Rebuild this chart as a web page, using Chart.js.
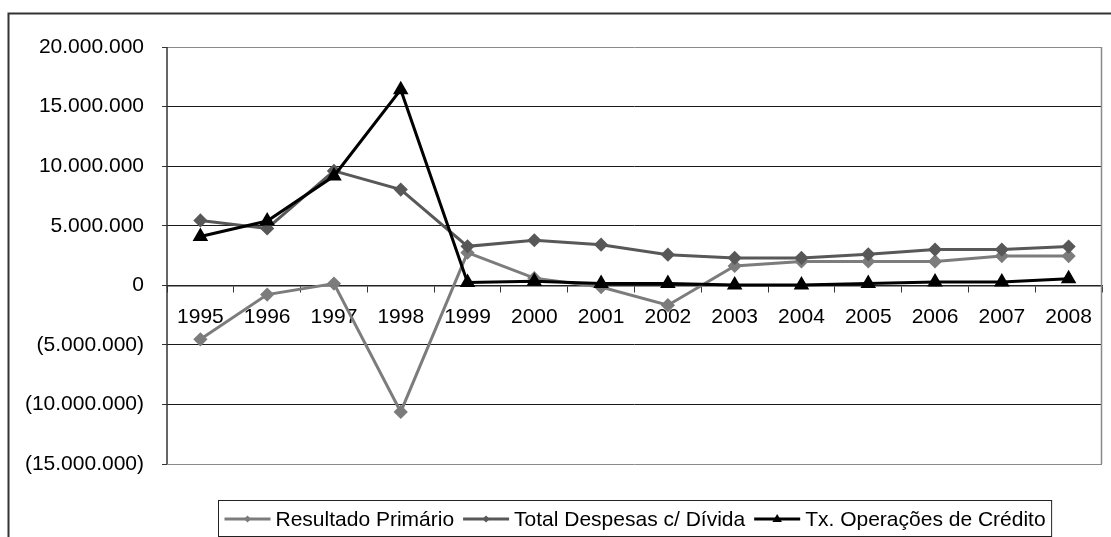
<!DOCTYPE html>
<html>
<head>
<meta charset="utf-8">
<script src="https://cdn.jsdelivr.net/npm/chart.js@4/dist/chart.umd.min.js"></script>
<style>
  html, body { margin: 0; padding: 0; background: #fff; }
  #wrap { width: 1111px; height: 537px; position: relative; }
</style>
</head>
<body>
<div id="wrap"><canvas id="c" width="1111" height="537"></canvas></div>
<script>
// Anos
const years = ['1995','1996','1997','1998','1999','2000','2001','2002','2003','2004','2005','2006','2007','2008'];

// Séries (R$)
const resultadoPrimario = [-4530000, -780000, 140000, -10630000, 2740000, 600000, -150000, -1670000, 1620000, 2000000, 2000000, 2000000, 2450000, 2450000];
const totalDespesasDivida = [5440000, 4770000, 9600000, 8030000, 3270000, 3780000, 3410000, 2570000, 2300000, 2300000, 2600000, 3000000, 3000000, 3250000];
const txOperacoesCredito = [4100000, 5390000, 9170000, 16420000, 230000, 340000, 140000, 150000, 20000, 20000, 140000, 280000, 280000, 550000];

// Eixo Y
const yMin = -15000000;
const yMax = 20000000;
const yStep = 5000000;

const seriesLabels = ['Resultado Primário', 'Total Despesas c/ Dívida', 'Tx. Operações de Crédito'];

const FONT = '"Liberation Sans", Arial, sans-serif';

function fmtNumber(v) {
  const abs = Math.round(Math.abs(v)).toString().replace(/\B(?=(\d{3})+(?!\d))/g, '.');
  return v < 0 ? '(' + abs + ')' : abs;
}

// Moldura externa, borda da área de plotagem e legenda com linha + marcador
const framePlugin = {
  id: 'frame',
  beforeDraw(chart) {
    const ctx = chart.ctx;
    ctx.save();
    ctx.fillStyle = '#fff';
    ctx.fillRect(0, 0, chart.width, chart.height);
    ctx.strokeStyle = '#333';
    ctx.lineWidth = 2;
    ctx.strokeRect(8.5, 13.5, 1120, 540);
    ctx.restore();
  },
  beforeDatasetsDraw(chart) {
    const {ctx, chartArea} = chart;
    ctx.save();
    ctx.strokeStyle = '#8a8a8a';
    ctx.lineWidth = 1.5;
    ctx.beginPath();
    ctx.moveTo(chartArea.right - 0.5, chartArea.top);
    ctx.lineTo(chartArea.right - 0.5, chartArea.bottom);
    ctx.stroke();
    ctx.strokeStyle = '#333';
    ctx.lineWidth = 1.5;
    ctx.beginPath();
    ctx.moveTo(chartArea.left, chartArea.top);
    ctx.lineTo(chartArea.left, chartArea.bottom);
    ctx.stroke();
    ctx.restore();
  },
  afterDraw(chart) {
    const ctx = chart.ctx;
    const datasets = chart.data.datasets;
    ctx.save();
    ctx.font = '21px ' + FONT;
    const sample = 46, gapAfterSample = 5, gapItems = 9, pad = 6;
    const widths = datasets.map(d => sample + gapAfterSample + ctx.measureText(d.label).width);
    const total = widths.reduce((a, b) => a + b, 0) + gapItems * (datasets.length - 1);
    const boxW = total + pad * 2;
    const cx = 634.5;
    const boxX = Math.round(cx - boxW / 2) + 0.5;
    const boxY = 500.5;
    ctx.fillStyle = '#fff';
    ctx.fillRect(boxX, boxY, boxW, 36);
    ctx.strokeStyle = '#222';
    ctx.lineWidth = 1;
    ctx.strokeRect(boxX, boxY, boxW, 36);
    const cy = 519;
    let x = boxX + pad;
    datasets.forEach((d, i) => {
      ctx.strokeStyle = d.borderColor;
      ctx.lineWidth = 3;
      ctx.beginPath();
      ctx.moveTo(x, cy);
      ctx.lineTo(x + sample, cy);
      ctx.stroke();
      const mx = x + sample / 2;
      ctx.fillStyle = d.pointBackgroundColor;
      ctx.beginPath();
      if (d.pointStyle === 'triangle') {
        const r = 5;
        ctx.moveTo(mx, cy - r);
        ctx.lineTo(mx + r * 0.95, cy + r * 0.6);
        ctx.lineTo(mx - r * 0.95, cy + r * 0.6);
      } else {
        const r = 3.5;
        ctx.moveTo(mx, cy - r);
        ctx.lineTo(mx + r, cy);
        ctx.lineTo(mx, cy + r);
        ctx.lineTo(mx - r, cy);
      }
      ctx.closePath();
      ctx.fill();
      ctx.fillStyle = '#000';
      ctx.textBaseline = 'middle';
      ctx.textAlign = 'left';
      ctx.fillText(d.label, x + sample + gapAfterSample, cy + 1);
      x += widths[i] + gapItems;
    });
    ctx.restore();
  }
};

new Chart(document.getElementById('c'), {
  type: 'line',
  data: {
    labels: years,
    datasets: [
      {
        label: seriesLabels[0],
        data: resultadoPrimario,
        borderColor: '#7c7c7c',
        backgroundColor: '#7c7c7c',
        pointBackgroundColor: '#7c7c7c',
        pointBorderColor: '#7c7c7c',
        pointStyle: 'rectRot',
        pointRadius: 5,
        borderWidth: 3,
        tension: 0,
        order: 2
      },
      {
        label: seriesLabels[1],
        data: totalDespesasDivida,
        borderColor: '#585858',
        backgroundColor: '#585858',
        pointBackgroundColor: '#585858',
        pointBorderColor: '#585858',
        pointStyle: 'rectRot',
        pointRadius: 5,
        borderWidth: 3,
        tension: 0,
        order: 1
      },
      {
        label: seriesLabels[2],
        data: txOperacoesCredito,
        borderColor: '#000',
        backgroundColor: '#000',
        pointBackgroundColor: '#000',
        pointBorderColor: '#000',
        pointStyle: 'triangle',
        pointRadius: 6,
        borderWidth: 3,
        tension: 0,
        order: 0
      }
    ]
  },
  options: {
    responsive: false,
    animation: false,
    devicePixelRatio: 1,
    layout: { padding: { left: 0, top: 47, right: 1, bottom: 73 } },
    plugins: {
      legend: { display: false },
      tooltip: { enabled: false }
    },
    scales: {
      x: {
        type: 'category',
        position: { y: 0 },
        offset: true,
        grid: {
          offset: true,
          drawOnChartArea: false,
          drawTicks: true,
          tickLength: 6,
          tickColor: '#333'
        },
        border: { display: true, color: '#222', width: 1.5 },
        ticks: {
          color: '#000',
          font: { family: FONT, size: 21 },
          padding: 13,
          autoSkip: false,
          maxRotation: 0
        }
      },
      y: {
        min: yMin,
        max: yMax,
        afterFit(scale) { scale.width = 167; },
        grid: {
          color(ctx) {
            const v = ctx.tick && ctx.tick.value;
            return (v === yMax || v === yMin) ? '#8a8a8a' : '#1a1a1a';
          },
          lineWidth: 1,
          tickLength: 5,
          tickColor: '#333'
        },
        border: { display: false },
        ticks: {
          stepSize: yStep,
          color: '#000',
          font: { family: FONT, size: 21 },
          padding: 18,
          callback: v => fmtNumber(v)
        }
      }
    }
  },
  plugins: [framePlugin]
});
</script>
</body>
</html>
